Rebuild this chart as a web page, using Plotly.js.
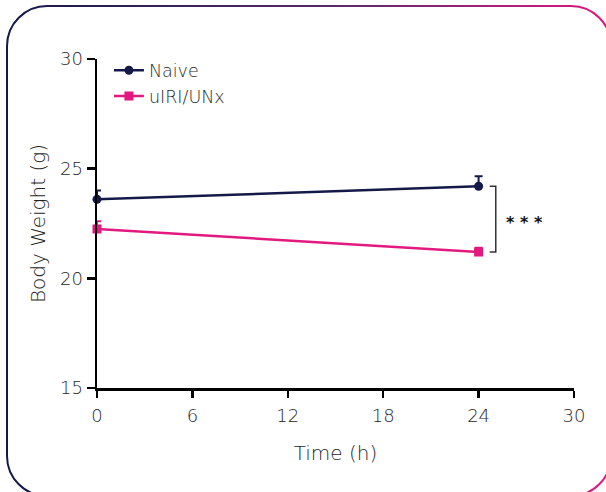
<!DOCTYPE html>
<html>
<head>
<meta charset="utf-8">
<script src="https://cdn.plot.ly/plotly-3.0.1.min.js"></script>
<style>
  html, body { margin: 0; padding: 0; background: #ffffff; }
  #wrap { position: relative; width: 606px; height: 492px; overflow: hidden; }
  #frame { position: absolute; left: 0; top: 0; }
  #chart { position: absolute; left: 0; top: 0; width: 606px; height: 492px; }
</style>
</head>
<body>
<div id="wrap">
  <svg id="frame" width="606" height="492">
    <defs>
      <linearGradient id="g" x1="0" y1="0" x2="1" y2="0">
        <stop offset="0" stop-color="#141a48"/>
        <stop offset="0.55" stop-color="#5a2a6a"/>
        <stop offset="1" stop-color="#e2197f"/>
      </linearGradient>
    </defs>
    <rect x="7" y="6" width="604" height="490" rx="40" ry="40" fill="none" stroke="url(#g)" stroke-width="2"/>
  </svg>
  <div id="chart"></div>
</div>
<script>
const time = [0, 24];
const naiveMean = [23.6, 24.2];
const naiveErr = [0.4, 0.45];
const uiriMean = [22.25, 21.2];
const uiriErr = [0.35, 0.2];
const seriesNames = ['Naive', 'uIRI/UNx'];
const xTicks = [0, 6, 12, 18, 24, 30];
const yTicks = [15, 20, 25, 30];

const navy = '#141a48';
const pink = '#e2197f';
const fontFam = '"DejaVu Sans", sans-serif';
const txt = '#1f1f1f';

const traces = [
  {
    x: time, y: naiveMean, name: seriesNames[0], type: 'scatter', mode: 'lines+markers',
    line: {color: navy, width: 2.5},
    marker: {symbol: 'circle', size: 9, color: navy},
    error_y: {type: 'data', symmetric: false, array: naiveErr, arrayminus: [0, 0], color: navy, thickness: 2, width: 4},
    cliponaxis: false
  },
  {
    x: time, y: uiriMean, name: seriesNames[1], type: 'scatter', mode: 'lines+markers',
    line: {color: pink, width: 2.5},
    marker: {symbol: 'square', size: 9, color: pink},
    error_y: {type: 'data', symmetric: false, array: uiriErr, arrayminus: [0, 0], color: pink, thickness: 2, width: 4},
    cliponaxis: false
  }
];

const layout = {
  width: 606, height: 492,
  margin: {l: 97, r: 32, t: 59, b: 104},
  paper_bgcolor: 'rgba(0,0,0,0)',
  plot_bgcolor: 'rgba(0,0,0,0)',
  font: {family: fontFam, color: txt, size: 17, weight: 200},
  showlegend: true,
  legend: {
    x: 0.025, y: 1.02, xanchor: 'left', yanchor: 'top',
    bgcolor: 'rgba(0,0,0,0)', font: {size: 17.5, color: txt, family: fontFam, weight: 200},
    tracegroupgap: 0, itemwidth: 30
  },
  xaxis: {
    range: [0, 30], tickvals: xTicks, ticktext: xTicks.map(String),
    showgrid: false, zeroline: false, showline: true, linecolor: '#000', linewidth: 2.5,
    ticks: 'outside', ticklen: 7, tickwidth: 2.5, tickcolor: '#000', ticklabelstandoff: 3,
    tickfont: {size: 18, color: txt, family: fontFam, weight: 200},
    title: {text: 'Time (h)', font: {size: 20, color: txt, family: fontFam, weight: 200}, standoff: 21},
    fixedrange: true
  },
  yaxis: {
    range: [15, 30], tickvals: yTicks, ticktext: yTicks.map(String),
    showgrid: false, zeroline: false, showline: true, linecolor: '#000', linewidth: 2.5,
    ticks: 'outside', ticklen: 8, tickwidth: 2.5, tickcolor: '#000',
    tickfont: {size: 18, color: txt, family: fontFam, weight: 200},
    title: {text: 'Body Weight (g)', font: {size: 20, color: txt, family: fontFam, weight: 200}, standoff: 9},
    fixedrange: true
  },
  shapes: [
    {type: 'path', xref: 'x', yref: 'y', path: 'M 24.7 24.2 L 25.08 24.2 L 25.08 21.2 L 24.7 21.2',
     line: {color: '#333333', width: 1.5}}
  ],
  annotations: [
    {x: 26.9, y: 22.55, xref: 'x', yref: 'y', text: '* * *', showarrow: false,
     font: {size: 16, color: '#111111', family: 'DejaVu Sans', weight: 700}}
  ]
};

Plotly.newPlot('chart', traces, layout, {displayModeBar: false, staticPlot: true});
</script>
</body>
</html>
